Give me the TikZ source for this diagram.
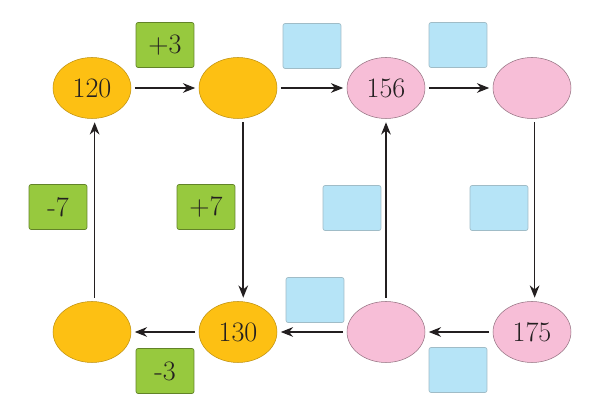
\documentclass[tikz,border=0pt]{standalone}
\usetikzlibrary{arrows.meta,shapes.geometric}
\definecolor{ovalorange}{HTML}{FDC013}
\definecolor{ovalpink}{HTML}{F7BED7}
\definecolor{boxgreen}{HTML}{97C93E}
\definecolor{boxblue}{HTML}{B6E4F7}
\definecolor{inkgray}{HTML}{231F20}
\begin{document}
\begin{tikzpicture}[x=0.02cm,y=-0.02cm,
	num/.style={ellipse, minimum width=1.56cm, minimum height=1.22cm, inner sep=0pt, font=\fontsize{16}{18}\selectfont, text=inkgray},
	orangenum/.style={num, fill=ovalorange, draw=ovalorange!75!black, line width=0.3pt},
	pinknum/.style={num, fill=ovalpink, draw=ovalpink!60!black, line width=0.3pt},
	opbox/.style={rectangle, rounded corners=1.2pt, minimum width=1.16cm, minimum height=0.9cm, inner sep=0pt, font=\fontsize{16}{18}\selectfont, text=inkgray},
	greenbox/.style={opbox, fill=boxgreen, draw=boxgreen!65!black, line width=0.4pt},
	bluebox/.style={opbox, fill=boxblue, draw=boxblue!60!gray, line width=0.4pt},
	link/.style={-{Stealth[length=7pt,width=5.5pt]}, line width=0.9pt, draw=inkgray, shorten >=2pt, shorten <=2pt}]
	\useasboundingbox (0,0) rectangle (596,411);
	\node[orangenum] (t1) at (92,88) {120};
	\node[orangenum] (t2) at (238,88) {};
	\node[pinknum] (t3) at (386,88) {156};
	\node[pinknum] (t4) at (532,88) {};
	\node[orangenum] (b1) at (92,332) {};
	\node[orangenum] (b2) at (238,332) {130};
	\node[pinknum] (b3) at (386,332) {};
	\node[pinknum] (b4) at (532,332) {175};
	\node[greenbox] (g1) at (165,45) {+3};
	\node[bluebox] (s1) at (312,46) {};
	\node[bluebox] (s2) at (458,45) {};
	\node[greenbox] (g2) at (58,207) {-7};
	\node[greenbox] (g3) at (206,207) {+7};
	\node[bluebox] (s3) at (352,208) {};
	\node[bluebox] (s4) at (499,208) {};
	\node[bluebox] (s5) at (315,300) {};
	\node[greenbox] (g4) at (165,371) {-3};
	\node[bluebox] (s6) at (458,370) {};
	\draw[link] (t1) -- (t2);
	\draw[link] (t2) -- (t3);
	\draw[link] (t3) -- (t4);
	\draw[link] ([xshift=3pt]t2.south) -- ([xshift=3pt]b2.north);
	\draw[link] ([xshift=1.5pt]t4.south) -- ([xshift=1.5pt]b4.north);
	\draw[link] ([xshift=1.5pt]b1.north) -- ([xshift=1.5pt]t1.south);
	\draw[link] (b3) -- (t3);
	\draw[link] (b4) -- (b3);
	\draw[link] (b3) -- (b2);
	\draw[link] (b2) -- (b1);
\end{tikzpicture}
\end{document}
